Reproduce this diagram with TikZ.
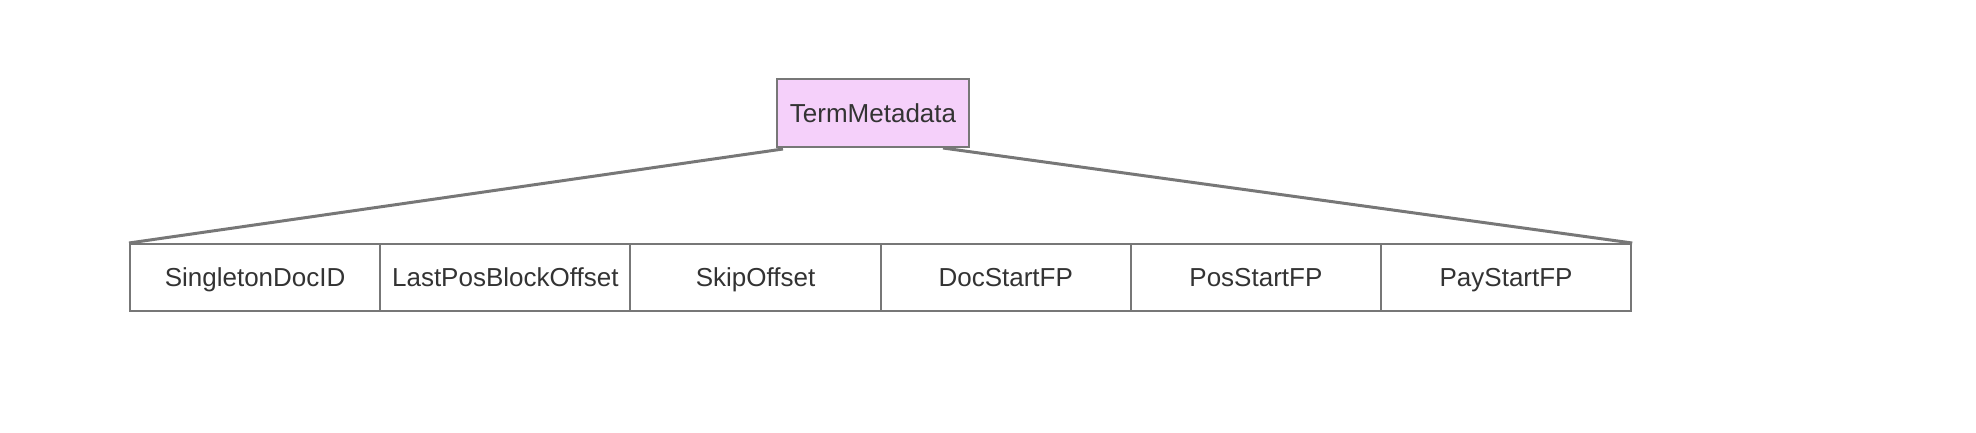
\documentclass[tikz,border=0pt]{standalone}
\usepackage{fontspec}
\setmainfont{Liberation Sans}
\usetikzlibrary{positioning,calc}
\definecolor{edgegray}{HTML}{777777}
\definecolor{txtgray}{HTML}{333333}
\definecolor{pinkfill}{HTML}{F5D0FA}
\begin{document}
\begin{tikzpicture}[x=1pt,y=-1pt,
  cellbox/.style={draw=edgegray, line width=2pt, minimum width=250.2pt, minimum height=67pt, inner sep=0pt, text height=21pt, text depth=3pt, font=\fontsize{26}{31}\selectfont, text=txtgray, anchor=north west},
  topbox/.style={draw=edgegray, line width=2pt, fill=pinkfill, minimum width=192pt, minimum height=68pt, inner sep=0pt, text height=21pt, text depth=3pt, font=\fontsize{26}{31}\selectfont, text=txtgray},
  conn/.style={draw=edgegray, line width=3pt}]
\useasboundingbox (0,0) rectangle (1976,432);
\node[topbox] (top) at (873,113) {TermMetadata};
\node[cellbox] (c1) at (129,243) {SingletonDocID};
\node[cellbox] (c2) at (379.2,243) {LastPosBlockOffset};
\node[cellbox] (c3) at (629.4,243) {SkipOffset};
\node[cellbox] (c4) at (879.6,243) {DocStartFP};
\node[cellbox] (c5) at (1129.8,243) {PosStartFP};
\node[cellbox] (c6) at (1380,243) {PayStartFP};
\draw[conn] ([xshift=7pt,yshift=-1pt]top.south west) -- (c1.north west);
\draw[conn] ([xshift=-27pt]top.south east) -- (c6.north east);
\end{tikzpicture}
\end{document}
